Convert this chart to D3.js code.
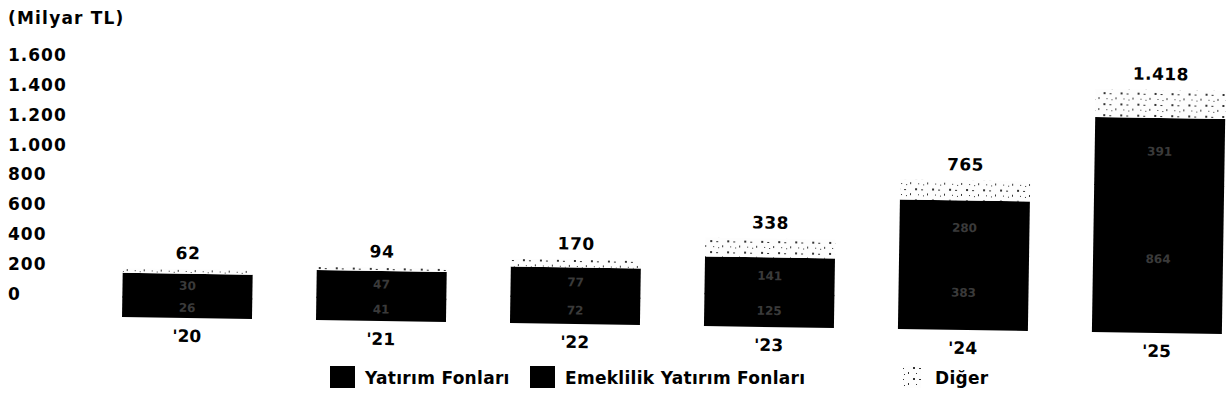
<!DOCTYPE html>
<html>
<head>
<meta charset="utf-8">
<script src="https://cdn.jsdelivr.net/npm/d3@7"></script>
<style>
  body { margin: 0; background: #fff; }
  text { font-family: "DejaVu Sans", sans-serif; font-weight: bold; fill: #000; }
</style>
</head>
<body>
<div id="chart"></div>
<script>
// veriler (milyar TL)
const years = ["'20", "'21", "'22", "'23", "'24", "'25"];
const yatirim = [26, 41, 72, 125, 383, 864];
const emeklilik = [30, 47, 77, 141, 280, 391];
const diger = [6, 6, 21, 72, 102, 163];
const totals = [62, 94, 170, 338, 765, 1418];
const yTicks = [0, 200, 400, 600, 800, 1000, 1200, 1400, 1600];
const seriesNames = ["Yatırım Fonları", "Emeklilik Yatırım Fonları", "Diğer"];

const width = 1230, height = 419;
const baseY = 318;

const svg = d3.select("#chart").append("svg")
    .attr("width", width)
    .attr("height", height);

svg.append("rect").attr("width", width).attr("height", height).attr("fill", "#fff");

// taranmış görüntüdeki benekli "Diğer" dokusu
const defs = svg.append("defs");
const pat = defs.append("pattern")
    .attr("id", "speckle")
    .attr("patternUnits", "userSpaceOnUse")
    .attr("width", 17).attr("height", 11);
pat.append("rect").attr("width", 17).attr("height", 11).attr("fill", "#fdfdfd");
[[1, 2, 2, 1], [7, 6, 1, 2], [12, 1, 2, 2], [3, 8, 1, 1], [15, 7, 1, 1]].forEach(p => {
    pat.append("rect").attr("x", p[0]).attr("y", p[1]).attr("width", p[2]).attr("height", p[3]).attr("fill", "#333");
});

const fmt = v => d3.format(",")(v).replace(/,/g, ".");

// sol eksen
const yAxisScale = d3.scaleLinear().domain([0, 1600]).range([294, 55]);
svg.append("text")
    .attr("x", 8).attr("y", 18).attr("dy", "0.35em")
    .style("font-size", "17px")
    .style("letter-spacing", "1.2px")
    .text("(Milyar TL)");

const yAxis = svg.append("g")
    .attr("transform", "translate(8,0)")
    .call(d3.axisLeft(yAxisScale).tickValues(yTicks).tickFormat(fmt).tickSize(0));
yAxis.select(".domain").remove();
yAxis.selectAll("text")
    .attr("x", 0)
    .attr("text-anchor", "start")
    .attr("fill", "#000")
    .style("font-size", "17px")
    .style("letter-spacing", "1px")
    .style("font-family", "'DejaVu Sans', sans-serif")
    .style("font-weight", "bold");

// çubuklar
const x = d3.scaleBand().domain(years).range([90, 1254]).paddingInner(0.33).paddingOuter(0.165);
const h = d3.scaleLinear().domain([0, d3.max(totals)]).range([40, 243]);

const data = years.map((yr, i) => ({
    yr, total: totals[i],
    segs: [yatirim[i], emeklilik[i], diger[i]]
}));

const tilt = Math.atan(15 / 970) * 180 / Math.PI;
const bars = svg.append("g")
    .attr("transform", `rotate(${tilt},187,${baseY})`);

const barG = bars.selectAll("g.bar").data(data).enter().append("g").attr("class", "bar");

barG.each(function(d) {
    const g = d3.select(this);
    const H = h(d.total);
    let acc = 0;
    d.segs.forEach((v, k) => {
        const sh = H * v / d.total;
        const y0 = baseY - H * (acc + v) / d.total;
        g.append("rect")
            .attr("x", x(d.yr))
            .attr("y", y0)
            .attr("width", x.bandwidth())
            .attr("height", k === 1 ? sh + 1 : sh)
            .attr("fill", k < 2 ? "#000" : "url(#speckle)");
        acc += v;
    });
    // segment etiketleri (taramada siyah üstünde zor okunuyor)
    acc = 0;
    d.segs.slice(0, 2).forEach(v => {
        const sh = H * v / d.total;
        const y0 = baseY - H * (acc + v) / d.total;
        g.append("text")
            .attr("x", x(d.yr) + x.bandwidth() / 2)
            .attr("y", y0 + sh / 2)
            .attr("dy", "0.35em")
            .attr("text-anchor", "middle")
            .style("font-size", "12px")
            .style("fill", "#3a3a3a")
            .text(fmt(v));
        acc += v;
    });
    g.append("text")
        .attr("x", x(d.yr) + x.bandwidth() / 2)
        .attr("y", baseY - H - 16)
        .attr("dy", "0.35em")
        .attr("text-anchor", "middle")
        .style("font-size", "17px")
        .style("letter-spacing", "0.5px")
        .text(fmt(d.total));
    g.append("text")
        .attr("x", x(d.yr) + x.bandwidth() / 2)
        .attr("y", baseY + 18)
        .attr("dy", "0.35em")
        .attr("text-anchor", "middle")
        .style("font-size", "17px")
        .text(d.yr);
});

// lejant
const legendX = [330, 530, 903];
const legend = svg.append("g").attr("transform", "translate(0,366)");
seriesNames.forEach((name, k) => {
    legend.append("rect")
        .attr("x", legendX[k]).attr("y", 0)
        .attr("width", k < 2 ? 25 : 18).attr("height", 22)
        .attr("fill", k < 2 ? "#000" : "url(#speckle)");
    legend.append("text")
        .attr("x", legendX[k] + (k < 2 ? 35 : 32)).attr("y", 12)
        .attr("dy", "0.35em")
        .style("font-size", "17px")
        .style("letter-spacing", "0.3px")
        .text(name);
});
</script>
</body>
</html>
